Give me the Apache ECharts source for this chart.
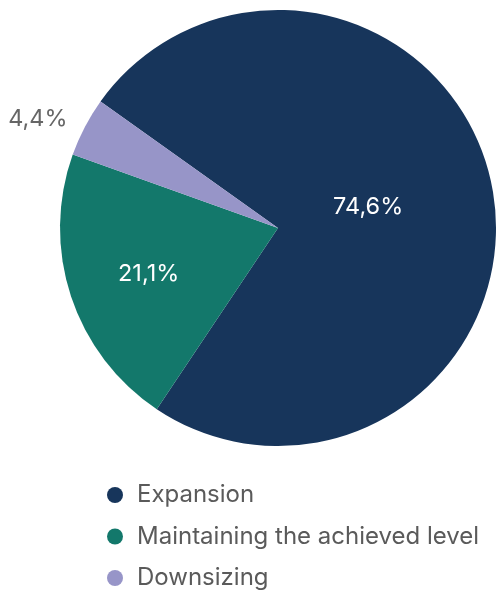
<!DOCTYPE html>
<html>
<head>
<meta charset="utf-8">
<script src="https://cdn.jsdelivr.net/npm/echarts@6/dist/echarts.min.js"></script>
<style>
  html, body { margin: 0; padding: 0; background: #ffffff; }
  #chart { width: 496px; height: 596px; }
</style>
</head>
<body>
<div id="chart"></div>
<script>
// Planned change in business scale, share of respondents (%)
const categories = ['Expansion', 'Maintaining the achieved level', 'Downsizing'];
const shares = [74.6, 21.1, 4.4];
const colors = ['#17355b', '#13786b', '#9795c8'];

const FONT = 'Inter, "Noto Sans", sans-serif';

// label placement per slice: the two big slices carry white labels inside,
// the thin slice gets a grey label outside without a leader line
const labelStyles = [
  { position: 'inside', color: '#ffffff', offset: [-20, -1] },
  { position: 'inside', color: '#ffffff', offset: [-23, 11] },
  { position: 'outside', color: '#666666', offset: [2, -1] }
];

const data = categories.map((name, i) => ({
  name: name,
  value: shares[i],
  itemStyle: { color: colors[i] },
  label: labelStyles[i],
  labelLine: { show: false, length: 16, length2: 0 }
}));

const chart = echarts.init(document.getElementById('chart'), null, { renderer: 'canvas' });
chart.setOption({
  animation: false,
  legend: {
    orient: 'vertical',
    left: 107,
    top: 483,
    padding: 0,
    itemWidth: 16,
    itemHeight: 16,
    itemGap: 17.5,
    icon: 'circle',
    textStyle: { fontFamily: FONT, fontSize: 24, color: '#5a5a5a', padding: [0, 0, 0, 9] },
    data: categories
  },
  series: [{
    type: 'pie',
    center: [278, 228],
    radius: 218,
    startAngle: 144.5,
    clockwise: true,
    avoidLabelOverlap: false,
    label: {
      fontFamily: FONT,
      fontSize: 23.5,
      formatter: (p) => p.value.toFixed(1).replace('.', ',') + '%'
    },
    emphasis: { disabled: true },
    data: data
  }]
});
</script>
</body>
</html>
